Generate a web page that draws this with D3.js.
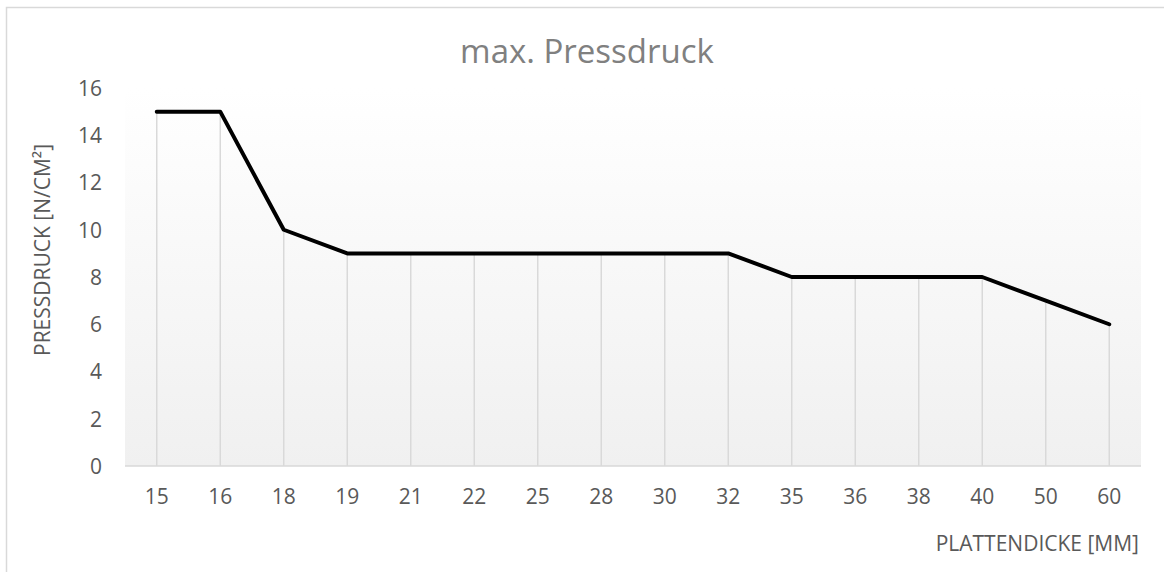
<!DOCTYPE html>
<html>
<head>
<meta charset="utf-8">
<script src="https://cdn.jsdelivr.net/npm/d3@7"></script>
<style>
  html, body { margin: 0; padding: 0; background: #fff; }
  svg { display: block; }
  text { font-family: "Open Sans", "Noto Sans", sans-serif; }
</style>
</head>
<body>
<svg id="chart" width="1164" height="572"></svg>
<script>
const categories = ["15","16","18","19","21","22","25","28","30","32","35","36","38","40","50","60"];
const values = [15,15,10,9,9,9,9,9,9,9,8,8,8,8,7,6];
const yTicks = [0,2,4,6,8,10,12,14,16];
const title = "max. Pressdruck";
const xTitle = "PLATTENDICKE [MM]";
const yTitle = "PRESSDRUCK [N/CM²]";

const W = 1164, H = 572;
const m = {left: 125, right: 23, top: 88, bottom: 106};
const svg = d3.select("#chart");

// outer chart border
svg.append("rect").attr("x", 6.5).attr("y", 7.5).attr("width", W + 10).attr("height", H + 10)
  .attr("fill", "#fff").attr("stroke", "#d9d9d9").attr("stroke-width", 1.5);

const x = d3.scaleBand().domain(categories).range([m.left, W - m.right]);
const y = d3.scaleLinear().domain([0, 16]).range([H - m.bottom, m.top]);

const defs = svg.append("defs");
const grad = defs.append("linearGradient").attr("id", "bg").attr("x1", 0).attr("y1", 0).attr("x2", 0).attr("y2", 1);
grad.append("stop").attr("offset", "0%").attr("stop-color", "#ffffff");
grad.append("stop").attr("offset", "100%").attr("stop-color", "#f0f0f0");

svg.append("rect").attr("x", m.left).attr("y", y(16)).attr("width", W - m.right - m.left)
  .attr("height", y(0) - y(16)).attr("fill", "url(#bg)");

const cx = d => x(d) + x.bandwidth() / 2;

// drop lines
svg.append("g").selectAll("line").data(categories).join("line")
  .attr("x1", (d) => cx(d)).attr("x2", (d) => cx(d))
  .attr("y1", (d, i) => y(values[i])).attr("y2", y(0))
  .attr("stroke", "#d9d9d9").attr("stroke-width", 1.5);

// x axis baseline
svg.append("line").attr("x1", m.left).attr("x2", W - m.right).attr("y1", y(0)).attr("y2", y(0))
  .attr("stroke", "#d9d9d9").attr("stroke-width", 1.5);

// y tick labels
const yAxis = svg.append("g").attr("transform", `translate(${m.left - 23},0)`)
  .call(d3.axisLeft(y).tickValues(yTicks).tickSize(0).tickPadding(0).tickFormat(d3.format("d")));
yAxis.select(".domain").remove();
yAxis.selectAll("text").attr("fill", "#595959").style("font-size", "21px").attr("dy", "0.35em");

// x tick labels
const xAxis = svg.append("g").attr("transform", `translate(0,${y(0)})`)
  .call(d3.axisBottom(x).tickSize(0).tickPadding(23));
xAxis.select(".domain").remove();
xAxis.selectAll("text").attr("fill", "#595959").style("font-size", "21px");

// line
svg.append("path").datum(values)
  .attr("d", d3.line().x((d, i) => cx(categories[i])).y(d => y(d)))
  .attr("fill", "none").attr("stroke", "#000").attr("stroke-width", 4)
  .attr("stroke-linejoin", "round").attr("stroke-linecap", "round");

// titles
svg.append("text").attr("x", 587).attr("y", 63).attr("text-anchor", "middle")
  .attr("fill", "#808080").style("font-size", "33px").text(title);
svg.append("text").attr("x", 1139).attr("y", 551).attr("text-anchor", "end")
  .attr("fill", "#595959").style("font-size", "21px").text(xTitle);
svg.append("text").attr("transform", "translate(50,250) rotate(-90)").attr("text-anchor", "middle")
  .attr("fill", "#595959").style("font-size", "21px").text(yTitle);
</script>
</body>
</html>
